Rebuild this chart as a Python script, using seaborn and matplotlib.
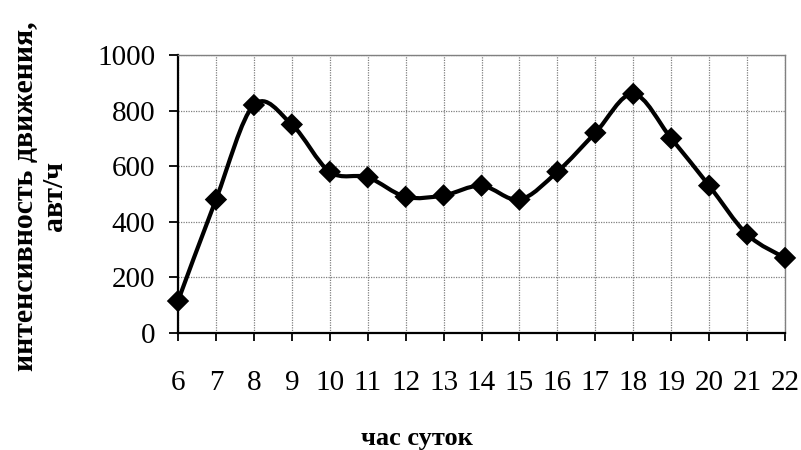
import numpy as np
import pandas as pd
import matplotlib
matplotlib.use("Agg")
import matplotlib.pyplot as plt
from matplotlib.path import Path
from matplotlib.patches import PathPatch
import seaborn as sns

hours = [6, 7, 8, 9, 10, 11, 12, 13, 14, 15, 16, 17, 18, 19, 20, 21, 22]
traffic = [115, 480, 820, 750, 580, 560, 490, 495, 530, 480, 580, 720, 860, 700, 530, 355, 270]
y_ticks = [0, 200, 400, 600, 800, 1000]

sns.set_theme(style="white")
plt.rcParams["font.family"] = ["Liberation Serif", "DejaVu Serif"]
plt.rcParams["text.color"] = "black"
plt.rcParams["xtick.color"] = "black"
plt.rcParams["ytick.color"] = "black"

df = pd.DataFrame({"hour": hours, "traffic": traffic})

fig = plt.figure(figsize=(8.01, 4.5), dpi=100)
ax = fig.add_axes([178 / 801, 1 - 333 / 450, (785 - 178) / 801, (333 - 55) / 450])


def smooth_path(x, y):
    # cubic Bezier segments through every point (Catmull-Rom style smoothing)
    pts = np.column_stack([x, y]).astype(float)
    n = len(pts)
    verts = [pts[0]]
    codes = [Path.MOVETO]
    for i in range(n - 1):
        p0 = pts[i - 1] if i > 0 else pts[i]
        p1 = pts[i]
        p2 = pts[i + 1]
        p3 = pts[i + 2] if i + 2 < n else pts[i + 1]
        c1 = p1 + (p2 - p0) / 6.0
        c2 = p2 - (p3 - p1) / 6.0
        verts += [c1, c2, p2]
        codes += [Path.CURVE4] * 3
    return Path(verts, codes)


ax.add_patch(PathPatch(smooth_path(df["hour"], df["traffic"]), facecolor="none",
                       edgecolor="black", lw=3.0, zorder=3, capstyle="round",
                       joinstyle="round"))
sns.scatterplot(data=df, x="hour", y="traffic", marker="D", s=130, color="black",
                edgecolor="none", linewidth=0, ax=ax, zorder=4, clip_on=False)

ax.set_xlim(6, 22)
ax.set_ylim(0, 1000)
ax.set_xticks(hours)
ax.set_xticklabels([str(h) for h in hours])
ax.set_yticks(y_ticks)
ax.set_yticklabels([str(v) for v in y_ticks])

ax.grid(True, color="#808080", linestyle=(0, (1, 1)), linewidth=0.9)
ax.set_axisbelow(True)

for side in ["left", "bottom"]:
    ax.spines[side].set_color("black")
    ax.spines[side].set_linewidth(1.6)
for side in ["top", "right"]:
    ax.spines[side].set_color("#808080")
    ax.spines[side].set_linewidth(1.0)

ax.tick_params(axis="y", direction="out", length=6.5, width=1.3, color="black",
               pad=10, labelsize=21, left=True)
ax.tick_params(axis="x", direction="out", length=6, width=1.3, color="black",
               pad=21, labelsize=21, bottom=True)

ax.set_xlabel("")
ax.set_ylabel("")

fig.text(417 / 801, 1 - 445 / 450, "час суток", ha="center", va="baseline",
         fontsize=19, fontweight="bold")
fig.text(40 / 801, 1 - 196 / 450, "интенсивность движения,\nавт/ч", ha="center",
         va="center", rotation=90, fontsize=21.5, fontweight="bold",
         multialignment="center", linespacing=1.05)

fig.savefig("out.png", dpi=100)
